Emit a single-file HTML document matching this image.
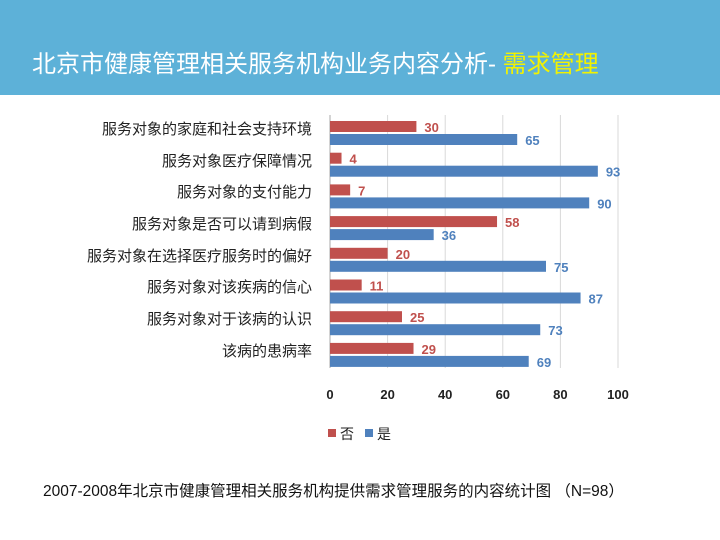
<!DOCTYPE html><html><head><meta charset="utf-8"><style>
body{margin:0;width:720px;height:540px;background:#fff;position:relative;overflow:hidden;font-family:"Liberation Sans","Noto Sans CJK SC",sans-serif}
.hdr{position:absolute;left:0;top:0;width:720px;height:95px;background:#5db1d8}
.t{position:absolute;left:32px;top:44px;font-size:24px;color:#fff;white-space:nowrap}
.t span{color:#f2f200}
.cap{position:absolute;left:43px;top:479px;font-size:15.5px;color:#111;white-space:nowrap}
</style></head><body>
<div class="hdr"></div>
<div class="t">北京市健康管理相关服务机构业务内容分析- <span>需求管理</span></div>
<svg width="720" height="540" style="position:absolute;left:0;top:0" font-family="Liberation Sans,Noto Sans CJK SC,sans-serif">
<g stroke="#d9d9d9" stroke-width="1">
<line x1="387.6" y1="115" x2="387.6" y2="368"/><line x1="445.2" y1="115" x2="445.2" y2="368"/><line x1="502.8" y1="115" x2="502.8" y2="368"/><line x1="560.4" y1="115" x2="560.4" y2="368"/><line x1="618" y1="115" x2="618" y2="368"/>
</g>
<line x1="330" y1="115" x2="330" y2="368" stroke="#aaa"/>
<g font-size="13" fill="#222" text-anchor="middle" font-weight="bold">
<text x="330" y="399">0</text><text x="387.6" y="399">20</text><text x="445.2" y="399">40</text><text x="502.8" y="399">60</text><text x="560.4" y="399">80</text><text x="618" y="399">100</text>
</g>
<g id="bars" font-size="13" font-weight="bold"></g>
<g font-size="15" fill="#222" text-anchor="end">
<text x="312" y="134">服务对象的家庭和社会支持环境</text>
<text x="312" y="166">服务对象医疗保障情况</text>
<text x="312" y="197">服务对象的支付能力</text>
<text x="312" y="229">服务对象是否可以请到病假</text>
<text x="312" y="261">服务对象在选择医疗服务时的偏好</text>
<text x="312" y="292">服务对象对该疾病的信心</text>
<text x="312" y="324">服务对象对于该病的认识</text>
<text x="312" y="356">该病的患病率</text>
</g>
<rect x="328" y="429" width="8" height="8" fill="#c0504d"/><text x="340" y="439" font-size="14" fill="#222">否</text>
<rect x="365" y="429" width="8" height="8" fill="#4f81bd"/><text x="377" y="439" font-size="14" fill="#222">是</text>
</svg>
<script>
var r=[30,4,7,58,20,11,25,29],b=[65,93,90,36,75,87,73,69],s="";
for(var i=0;i<8;i++){var y=121+i*31.7;
s+='<rect x="330" y="'+y+'" width="'+r[i]*2.88+'" height="11" fill="#c0504d"/>';
s+='<text x="'+(338+r[i]*2.88)+'" y="'+(y+11)+'" fill="#c0504d">'+r[i]+'</text>';
s+='<rect x="330" y="'+(y+13)+'" width="'+b[i]*2.88+'" height="11" fill="#4f81bd"/>';
s+='<text x="'+(338+b[i]*2.88)+'" y="'+(y+24)+'" fill="#4f81bd">'+b[i]+'</text>';}
document.getElementById('bars').innerHTML=s;
</script>
<div class="cap">2007-2008年北京市健康管理相关服务机构提供需求管理服务的内容统计图 （N=98）</div>
</body></html>
